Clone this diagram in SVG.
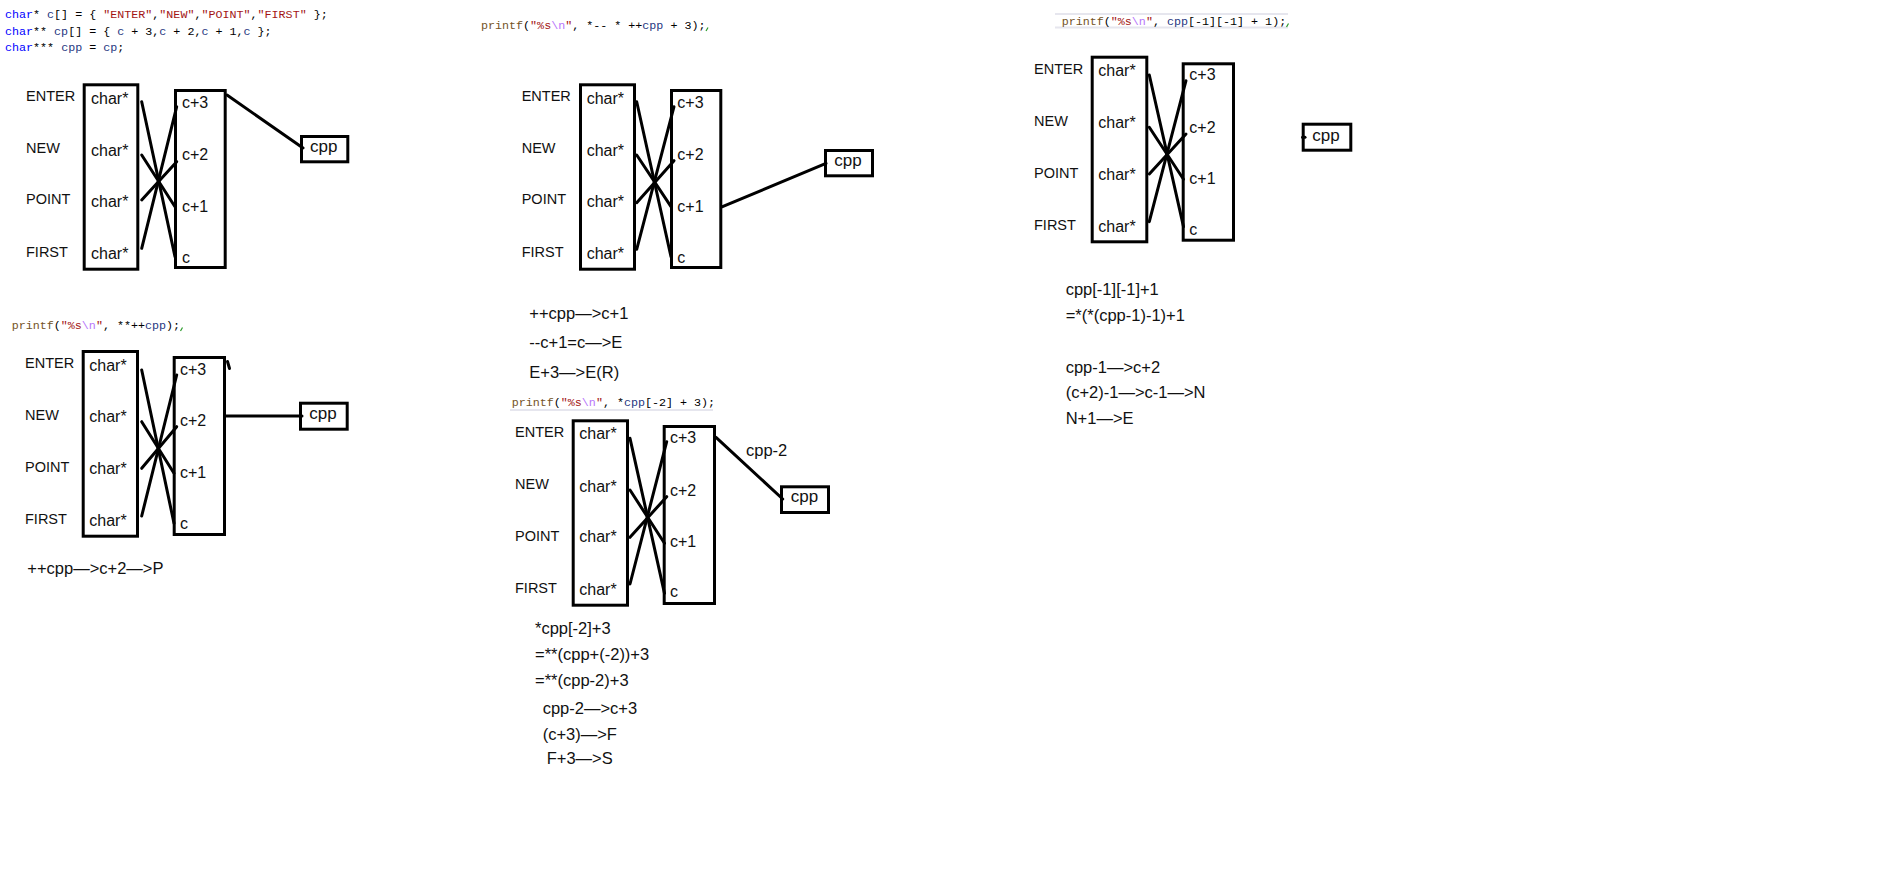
<svg xmlns="http://www.w3.org/2000/svg" width="1896" height="891" viewBox="0 0 1896 891">
<style>
.code{font-family:"Liberation Mono",monospace;font-size:11.7px;fill:#000;white-space:pre}
.kw{fill:#0000ff}.str{fill:#a31515}.id{fill:#1f377f}.fn{fill:#74531f}.esc{fill:#b776fb}
.lab{font-family:"Liberation Sans",Arial,sans-serif;font-size:14.5px;fill:#111}
.t{font-family:"Liberation Sans",Arial,sans-serif;font-size:16px;fill:#111}
.cp{font-family:"Liberation Sans",Arial,sans-serif;font-size:17px;fill:#111}
.n{font-family:"Liberation Sans",Arial,sans-serif;font-size:16.5px;fill:#111;white-space:pre}
.box{fill:none;stroke:#000;stroke-width:3}
.ln{stroke:#000;stroke-width:3;stroke-linecap:round;fill:none}
.hl{stroke:#e6e6ee;stroke-width:2}
.sq{stroke:#2a9a2a;stroke-width:1.2;fill:none}
</style>
<rect width="1896" height="891" fill="#fff"/>

<g id="code">
<text class="code" x="5" y="18"><tspan class="kw">char</tspan>* <tspan class="id">c</tspan>[] = { <tspan class="str">"ENTER"</tspan>,<tspan class="str">"NEW"</tspan>,<tspan class="str">"POINT"</tspan>,<tspan class="str">"FIRST"</tspan> };</text>
<text class="code" x="5" y="35"><tspan class="kw">char</tspan>** <tspan class="id">cp</tspan>[] = { <tspan class="id">c</tspan> + 3,<tspan class="id">c</tspan> + 2,<tspan class="id">c</tspan> + 1,<tspan class="id">c</tspan> };</text>
<text class="code" x="5" y="51"><tspan class="kw">char</tspan>*** <tspan class="id">cpp</tspan> = <tspan class="id">cp</tspan>;</text>
</g>

<g id="printf2">
<text class="code" x="11.7" y="329"><tspan class="fn">printf</tspan>(<tspan class="str">"%s</tspan><tspan class="esc">\n</tspan><tspan class="str">"</tspan>, **++<tspan class="id">cpp</tspan>);</text>
<path class="sq" d="M180.5 331 L182.5 327.5"/>
</g>
<g id="printf3">
<text class="code" x="481" y="29"><tspan class="fn">printf</tspan>(<tspan class="str">"%s</tspan><tspan class="esc">\n</tspan><tspan class="str">"</tspan>, *-- * ++<tspan class="id">cpp</tspan> + 3);</text>
<path class="sq" d="M706 31 L708 27.5"/>
</g>
<g id="printf4">
<line class="hl" x1="510" y1="410" x2="713" y2="410"/>
<text class="code" x="511.7" y="405.7"><tspan class="fn">printf</tspan>(<tspan class="str">"%s</tspan><tspan class="esc">\n</tspan><tspan class="str">"</tspan>, *<tspan class="id">cpp</tspan>[-2] + 3);</text>
</g>
<g id="printf5">
<line class="hl" x1="1055" y1="14" x2="1288" y2="14"/>
<line class="hl" x1="1055" y1="27.5" x2="1288" y2="27.5"/>
<text class="code" x="1061.7" y="24.7"><tspan class="fn">printf</tspan>(<tspan class="str">"%s</tspan><tspan class="esc">\n</tspan><tspan class="str">"</tspan>, <tspan class="id">cpp</tspan>[-1][-1] + 1);</text>
<path class="sq" d="M1286.5 27 L1288.5 23.5"/>
</g>

<!-- Panel 1 -->
<g id="p1-labels">
<text class="lab" x="26" y="101">ENTER</text>
<text class="lab" x="26" y="153">NEW</text>
<text class="lab" x="26" y="204.2">POINT</text>
<text class="lab" x="26" y="257">FIRST</text>
</g>
<g id="p1-c">
<rect class="box" x="84.2" y="84.8" width="53.6" height="184.4"/>
<text class="t" x="91" y="104">char*</text>
<text class="t" x="91" y="155.7">char*</text>
<text class="t" x="91" y="207.4">char*</text>
<text class="t" x="91" y="259">char*</text>
</g>
<g id="p1-cp">
<rect class="box" x="175.5" y="90.5" width="49.7" height="177"/>
<text class="t" x="182" y="108">c+3</text>
<text class="t" x="182" y="160">c+2</text>
<text class="t" x="182" y="211.7">c+1</text>
<text class="t" x="182" y="262.5">c</text>
</g>
<g id="p1-cpp">
<rect class="box" x="301.5" y="136.5" width="46.3" height="25.3"/>
<text class="cp" x="310" y="152">cpp</text>
</g>

<!-- Panel 2 -->
<g id="p2-labels">
<text class="lab" x="25" y="368">ENTER</text>
<text class="lab" x="25" y="420.2">NEW</text>
<text class="lab" x="25" y="472">POINT</text>
<text class="lab" x="25" y="524.2">FIRST</text>
</g>
<g id="p2-c">
<rect class="box" x="83.2" y="351.5" width="54.3" height="184.7"/>
<text class="t" x="89.3" y="370.7">char*</text>
<text class="t" x="89.3" y="422.4">char*</text>
<text class="t" x="89.3" y="474">char*</text>
<text class="t" x="89.3" y="525.7">char*</text>
</g>
<g id="p2-cp">
<rect class="box" x="174.2" y="357.5" width="50.3" height="177"/>
<text class="t" x="180" y="374.7">c+3</text>
<text class="t" x="180" y="426.4">c+2</text>
<text class="t" x="180" y="478.4">c+1</text>
<text class="t" x="180" y="529">c</text>
</g>
<g id="p2-cpp">
<rect class="box" x="300.5" y="403.2" width="46.7" height="26"/>
<text class="cp" x="309.3" y="418.5">cpp</text>
</g>
<g id="p2-notes">
<text class="n" x="27.3" y="574">++cpp—&gt;c+2—&gt;P</text>
</g>

<!-- Panel 3 -->
<g id="p3-labels">
<text class="lab" x="521.7" y="101">ENTER</text>
<text class="lab" x="521.7" y="153">NEW</text>
<text class="lab" x="521.7" y="204.2">POINT</text>
<text class="lab" x="521.7" y="257">FIRST</text>
</g>
<g id="p3-c">
<rect class="box" x="580.5" y="84.8" width="54" height="184.4"/>
<text class="t" x="586.7" y="104">char*</text>
<text class="t" x="586.7" y="155.7">char*</text>
<text class="t" x="586.7" y="207.4">char*</text>
<text class="t" x="586.7" y="259">char*</text>
</g>
<g id="p3-cp">
<rect class="box" x="671.5" y="90.5" width="49.3" height="177"/>
<text class="t" x="677.3" y="108">c+3</text>
<text class="t" x="677.3" y="160">c+2</text>
<text class="t" x="677.3" y="211.7">c+1</text>
<text class="t" x="677.3" y="262.5">c</text>
</g>
<g id="p3-cpp">
<rect class="box" x="825.5" y="150.5" width="47" height="25.3"/>
<text class="cp" x="834.3" y="165.5">cpp</text>
</g>
<g id="p3-notes">
<text class="n" x="529.3" y="319">++cpp—&gt;c+1</text>
<text class="n" x="529.3" y="347.5">--c+1=c—&gt;E</text>
<text class="n" x="529.3" y="377.5">E+3—&gt;E(R)</text>
</g>

<!-- Panel 4 -->
<g id="p4-labels">
<text class="lab" x="515" y="437">ENTER</text>
<text class="lab" x="515" y="488.5">NEW</text>
<text class="lab" x="515" y="541">POINT</text>
<text class="lab" x="515" y="593">FIRST</text>
</g>
<g id="p4-c">
<rect class="box" x="573.2" y="420.8" width="54.3" height="184.4"/>
<text class="t" x="579.3" y="439">char*</text>
<text class="t" x="579.3" y="491.7">char*</text>
<text class="t" x="579.3" y="542.4">char*</text>
<text class="t" x="579.3" y="595">char*</text>
</g>
<g id="p4-cp">
<rect class="box" x="664.2" y="426.5" width="50.3" height="177"/>
<text class="t" x="670" y="443.4">c+3</text>
<text class="t" x="670" y="495.7">c+2</text>
<text class="t" x="670" y="547.4">c+1</text>
<text class="t" x="670" y="597.3">c</text>
</g>
<g id="p4-cpp">
<rect class="box" x="781.5" y="486.8" width="47" height="25.7"/>
<text class="cp" x="790.7" y="502">cpp</text>
</g>
<g id="p4-notes">
<text class="n" x="746" y="456">cpp-2</text>
<text class="n" x="535" y="633.5">*cpp[-2]+3</text>
<text class="n" x="535" y="659.8">=**(cpp+(-2))+3</text>
<text class="n" x="535" y="685.8">=**(cpp-2)+3</text>
<text class="n" x="542.7" y="714">cpp-2—&gt;c+3</text>
<text class="n" x="542.7" y="739.8">(c+3)—&gt;F</text>
<text class="n" x="546.7" y="764">F+3—&gt;S</text>
</g>

<!-- Panel 5 -->
<g id="p5-labels">
<text class="lab" x="1034" y="74.2">ENTER</text>
<text class="lab" x="1034" y="126">NEW</text>
<text class="lab" x="1034" y="178">POINT</text>
<text class="lab" x="1034" y="229.5">FIRST</text>
</g>
<g id="p5-c">
<rect class="box" x="1092.2" y="57.2" width="54.6" height="184.6"/>
<text class="t" x="1098.3" y="76.4">char*</text>
<text class="t" x="1098.3" y="128">char*</text>
<text class="t" x="1098.3" y="180">char*</text>
<text class="t" x="1098.3" y="231.7">char*</text>
</g>
<g id="p5-cp">
<rect class="box" x="1183.2" y="63.8" width="50.3" height="176.4"/>
<text class="t" x="1189.3" y="80.4">c+3</text>
<text class="t" x="1189.3" y="132.7">c+2</text>
<text class="t" x="1189.3" y="184.4">c+1</text>
<text class="t" x="1189.3" y="235">c</text>
</g>
<g id="p5-cpp">
<rect class="box" x="1303.2" y="124.2" width="47.6" height="26"/>
<text class="cp" x="1312.3" y="140.5">cpp</text>
</g>
<g id="p5-notes">
<text class="n" x="1065.7" y="295">cpp[-1][-1]+1</text>
<text class="n" x="1065.7" y="320.7">=*(*(cpp-1)-1)+1</text>
<text class="n" x="1065.7" y="373">cpp-1—&gt;c+2</text>
<text class="n" x="1065.7" y="398.4">(c+2)-1—&gt;c-1—&gt;N</text>
<text class="n" x="1065.7" y="424">N+1—&gt;E</text>
</g>

<g id="connectors">
<!-- panel 1 -->
<line class="ln" x1="141.7" y1="101.7" x2="175" y2="256.7"/>
<line class="ln" x1="141.7" y1="155" x2="175" y2="206.7"/>
<line class="ln" x1="141.7" y1="200" x2="176.7" y2="161.7"/>
<line class="ln" x1="141.7" y1="248.3" x2="176.7" y2="106.7"/>
<line class="ln" x1="227" y1="95" x2="303" y2="148"/>
<!-- panel 2 -->
<line class="ln" x1="141.7" y1="370" x2="174" y2="523.3"/>
<line class="ln" x1="141.7" y1="421.7" x2="174" y2="473.3"/>
<line class="ln" x1="141.7" y1="468.3" x2="176.7" y2="426.7"/>
<line class="ln" x1="141.7" y1="516" x2="176.7" y2="375"/>
<line class="ln" x1="226" y1="416" x2="302" y2="416"/>
<line class="ln" x1="227.5" y1="361.5" x2="229.5" y2="368.5"/>
<!-- panel 3 -->
<line class="ln" x1="636.7" y1="101.7" x2="671" y2="256.7"/>
<line class="ln" x1="636.7" y1="155" x2="671" y2="206.7"/>
<line class="ln" x1="636.7" y1="202.7" x2="674" y2="160.7"/>
<line class="ln" x1="636.7" y1="249.3" x2="674" y2="106.7"/>
<line class="ln" x1="722.5" y1="206.7" x2="826" y2="163.3"/>
<!-- panel 4 -->
<line class="ln" x1="630" y1="438.3" x2="664.5" y2="593.3"/>
<line class="ln" x1="630" y1="490" x2="664.5" y2="543.3"/>
<line class="ln" x1="630" y1="537.3" x2="666.7" y2="496.7"/>
<line class="ln" x1="630" y1="584" x2="666.7" y2="441.7"/>
<line class="ln" x1="716" y1="437.3" x2="782.7" y2="499"/>
<!-- panel 5 -->
<line class="ln" x1="1149.3" y1="75" x2="1183.5" y2="226.7"/>
<line class="ln" x1="1149.3" y1="127.3" x2="1183.5" y2="179.3"/>
<line class="ln" x1="1149.3" y1="174" x2="1186" y2="134"/>
<line class="ln" x1="1149.3" y1="221.7" x2="1186" y2="80.7"/>
<line class="ln" x1="1302.5" y1="137.3" x2="1305" y2="137.3"/>
</g>
</svg>
